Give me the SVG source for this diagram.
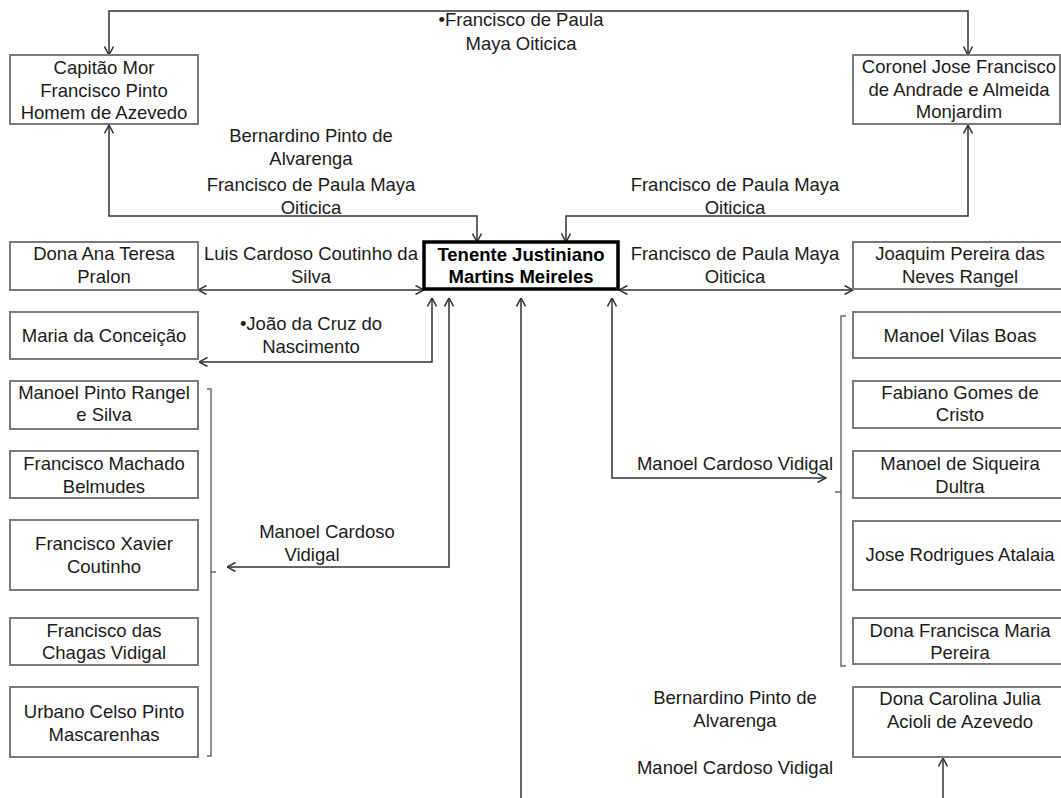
<svg xmlns="http://www.w3.org/2000/svg" width="1061" height="798" viewBox="0 0 1061 798">
  <style>
    .box { fill: #ffffff; stroke: #7a7a7a; stroke-width: 2; }
    .main { fill: #ffffff; stroke: #000000; stroke-width: 3.5; }
    text { font-family: "Liberation Sans", Arial, sans-serif; font-size: 18.5px; fill: #1c1c1c; text-anchor: middle; }
    .bold { font-weight: bold; fill: #000000; }
    .link { fill: none; stroke: #333333; stroke-width: 1.5; }
    .bracket { fill: none; stroke: #6a6a6a; stroke-width: 1.5; }
  </style>
  <defs>
    <marker id="arrow" viewBox="0 0 10 10" refX="9.5" refY="5" markerWidth="10" markerHeight="10" markerUnits="userSpaceOnUse" orient="auto-start-reverse">
      <path d="M1,0.5 L9.5,5 L1,9.5" fill="none" stroke="#333333" stroke-width="1.5"/>
    </marker>
  </defs>

  <rect width="1061" height="798" fill="#ffffff"/>

  <!-- connectors -->
  <g id="connectors">
    <path class="link" d="M109,55 V11 H968 V55" marker-start="url(#arrow)" marker-end="url(#arrow)"/>
    <path class="link" d="M477,242 V216 H109 V125" marker-start="url(#arrow)" marker-end="url(#arrow)"/>
    <path class="link" d="M566,242 V216 H968 V125" marker-start="url(#arrow)" marker-end="url(#arrow)"/>
    <path class="link" d="M198,290 H424" marker-start="url(#arrow)" marker-end="url(#arrow)"/>
    <path class="link" d="M619,290 H853" marker-start="url(#arrow)" marker-end="url(#arrow)"/>
    <path class="link" d="M432,298 V362 H199" marker-start="url(#arrow)" marker-end="url(#arrow)"/>
    <path class="link" d="M449,298 V567 H227" marker-start="url(#arrow)" marker-end="url(#arrow)"/>
    <path class="link" d="M521,798 V298" marker-end="url(#arrow)"/>
    <path class="link" d="M612,298 V478 H826" marker-start="url(#arrow)" marker-end="url(#arrow)"/>
    <path class="link" d="M943,798 V758" marker-end="url(#arrow)"/>
    <!-- group braces -->
    <path class="bracket" d="M207,389 H211 V756 H207 M211,572 H216"/>
    <path class="bracket" d="M846,316 H841 V666 H846 M841,492 H835"/>
  </g>

  <!-- connector labels -->
  <g id="labels">
    <text x="521" y="25.5">•Francisco de Paula</text>
    <text x="521" y="49.5">Maya Oiticica</text>
    <text x="311" y="141.5">Bernardino Pinto de</text>
    <text x="311" y="164.5">Alvarenga</text>
    <text x="311" y="190.5">Francisco de Paula Maya</text>
    <text x="311" y="213.5">Oiticica</text>
    <text x="735" y="190.5">Francisco de Paula Maya</text>
    <text x="735" y="213.5">Oiticica</text>
    <text x="311" y="259.5">Luis Cardoso Coutinho da</text>
    <text x="311" y="282.5">Silva</text>
    <text x="735" y="259.5">Francisco de Paula Maya</text>
    <text x="735" y="282.5">Oiticica</text>
    <text x="311" y="329.5">•João da Cruz do</text>
    <text x="311" y="352.5">Nascimento</text>
    <text x="735" y="469.5">Manoel Cardoso Vidigal</text>
    <text x="327" y="537.5">Manoel Cardoso</text>
    <text x="312" y="560.5">Vidigal</text>
    <text x="735" y="703.5">Bernardino Pinto de</text>
    <text x="735" y="726.5">Alvarenga</text>
    <text x="735" y="773.5">Manoel Cardoso Vidigal</text>
  </g>

  <!-- central person -->
  <g id="node-tenente">
    <rect class="main" x="424" y="242" width="194" height="47"/>
    <text class="bold" x="521" y="260.5">Tenente Justiniano</text>
    <text class="bold" x="521" y="283">Martins Meireles</text>
  </g>

  <!-- upper row -->
  <g id="node-capitao">
    <rect class="box" x="10" y="55" width="188" height="69"/>
    <text x="104" y="74">Capitão Mor</text>
    <text x="104" y="96.5">Francisco Pinto</text>
    <text x="104" y="119">Homem de Azevedo</text>
  </g>
  <g id="node-coronel">
    <rect class="box" x="853" y="55" width="207" height="69"/>
    <text x="959" y="73">Coronel Jose Francisco</text>
    <text x="959" y="95.5">de Andrade e Almeida</text>
    <text x="959" y="118">Monjardim</text>
  </g>

  <!-- left column -->
  <g id="node-dona-ana">
    <rect class="box" x="10" y="242" width="188" height="48"/>
    <text x="104" y="259.5">Dona Ana  Teresa</text>
    <text x="104" y="282.5">Pralon</text>
  </g>
  <g id="node-maria">
    <rect class="box" x="10" y="312" width="188" height="47"/>
    <text x="104" y="341.5">Maria da Conceição</text>
  </g>
  <g id="node-manoel-pinto">
    <rect class="box" x="10" y="381" width="188" height="48"/>
    <text x="104" y="398.5">Manoel Pinto Rangel</text>
    <text x="104" y="420.5">e Silva</text>
  </g>
  <g id="node-francisco-machado">
    <rect class="box" x="10" y="451" width="188" height="47"/>
    <text x="104" y="469.5">Francisco Machado</text>
    <text x="104" y="492.5">Belmudes</text>
  </g>
  <g id="node-francisco-xavier">
    <rect class="box" x="10" y="520" width="188" height="70"/>
    <text x="104" y="549.5">Francisco Xavier</text>
    <text x="104" y="572.5">Coutinho</text>
  </g>
  <g id="node-francisco-chagas">
    <rect class="box" x="10" y="618" width="188" height="47"/>
    <text x="104" y="636.5">Francisco das</text>
    <text x="104" y="658.5">Chagas Vidigal</text>
  </g>
  <g id="node-urbano">
    <rect class="box" x="10" y="687" width="188" height="70"/>
    <text x="104" y="717.5">Urbano Celso Pinto</text>
    <text x="104" y="740.5">Mascarenhas</text>
  </g>

  <!-- right column -->
  <g id="node-joaquim">
    <rect class="box" x="853" y="242" width="214" height="47"/>
    <text x="960" y="259.5">Joaquim Pereira das</text>
    <text x="960" y="282.5">Neves Rangel</text>
  </g>
  <g id="node-manoel-vilas">
    <rect class="box" x="853" y="312" width="214" height="46"/>
    <text x="960" y="341.5">Manoel Vilas Boas</text>
  </g>
  <g id="node-fabiano">
    <rect class="box" x="853" y="381" width="214" height="47"/>
    <text x="960" y="398.5">Fabiano Gomes de</text>
    <text x="960" y="420.5">Cristo</text>
  </g>
  <g id="node-manoel-siqueira">
    <rect class="box" x="853" y="451" width="214" height="47"/>
    <text x="960" y="469.5">Manoel de Siqueira</text>
    <text x="960" y="492.5">Dultra</text>
  </g>
  <g id="node-jose-rodrigues">
    <rect class="box" x="853" y="521" width="214" height="69"/>
    <text x="960" y="560.5">Jose Rodrigues Atalaia</text>
  </g>
  <g id="node-dona-francisca">
    <rect class="box" x="853" y="618" width="214" height="46"/>
    <text x="960" y="636.5">Dona Francisca Maria</text>
    <text x="960" y="658.5">Pereira</text>
  </g>
  <g id="node-dona-carolina">
    <rect class="box" x="853" y="687" width="214" height="70"/>
    <text x="960" y="704.5">Dona Carolina Julia</text>
    <text x="960" y="727.5">Acioli de Azevedo</text>
  </g>
</svg>
